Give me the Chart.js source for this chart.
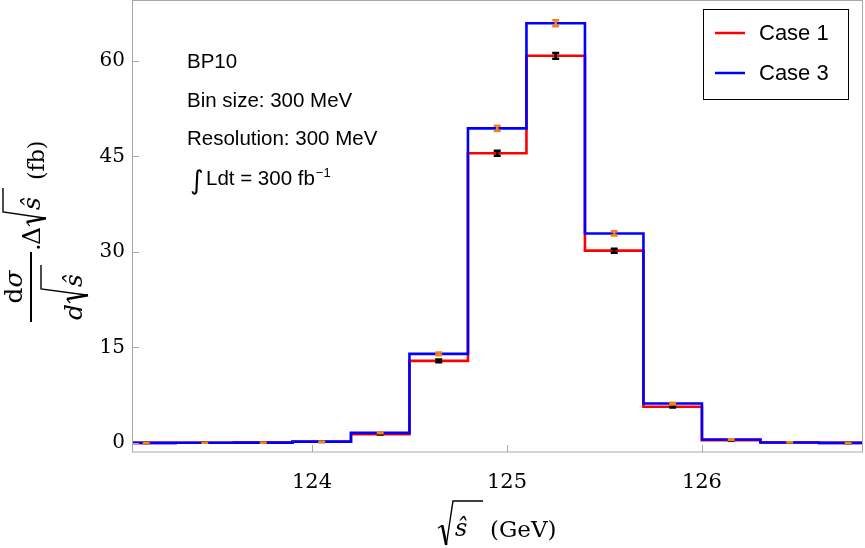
<!DOCTYPE html>
<html><head><meta charset="utf-8">
<script src="https://cdn.jsdelivr.net/npm/chart.js@4/dist/chart.umd.min.js"></script>
<style>html,body{margin:0;padding:0;background:#fff;}#wrap{width:865px;height:548px;position:relative;}</style>
</head><body><div id="wrap"><canvas id="c" width="865" height="548"></canvas></div>
<script>
// ---- data ----
const binCenters = [123.15,123.45,123.75,124.05,124.35,124.65,124.95,125.25,125.55,125.85,126.15,126.45,126.75];
const binWidth = 0.3;
const case1Values = [0.03,0.04,0.06,0.20,1.4,12.9,45.5,60.8,30.2,5.7,0.45,0.08,0.03];
const case3Values = [0.03,0.04,0.06,0.22,1.6,14.0,49.4,65.9,32.9,6.2,0.55,0.09,0.03];
const case1Errors = [0.01,0.01,0.01,0.03,0.07,0.21,0.39,0.45,0.32,0.14,0.04,0.02,0.01];
const case3Errors = [0.01,0.01,0.01,0.03,0.07,0.22,0.41,0.47,0.33,0.14,0.04,0.02,0.01];
const xTickValues = [124,125,126];
const yTickValues = [0,15,30,45,60];
const seriesLabels = ['Case 1','Case 3'];
const annotationLines = ['BP10','Bin size: 300 MeV','Resolution: 300 MeV'];
const lumiText = 'Ldt = 300 fb';
const lumiExp = '\u22121';

function stepPoints(values){
  const pts = binCenters.map((c,i)=>({x:c-binWidth/2, y:values[i]}));
  pts.push({x:binCenters[binCenters.length-1]+binWidth/2, y:values[values.length-1]});
  return pts;
}

const GRAY = '#a8a8a8';

function radical(ctx, u0, top, bottom, signW, barLen){
  const h = bottom - top;
  ctx.lineCap='butt'; ctx.lineJoin='miter';
  ctx.beginPath();
  ctx.lineWidth = 1.2;
  ctx.moveTo(u0, top + h*0.62);
  ctx.lineTo(u0 + signW*0.28, top + h*0.55);
  ctx.stroke();
  ctx.beginPath();
  ctx.lineWidth = 2.6;
  ctx.moveTo(u0 + signW*0.28, top + h*0.55);
  ctx.lineTo(u0 + signW*0.55, bottom);
  ctx.stroke();
  ctx.beginPath();
  ctx.lineWidth = 1.4;
  ctx.moveTo(u0 + signW*0.55, bottom);
  ctx.lineTo(u0 + signW, top);
  ctx.lineTo(u0 + signW + barLen, top);
  ctx.stroke();
}

const decor = {
  id:'decor',
  afterDatasetsDraw(chart){
    const {ctx, chartArea:ca, scales:{x:xs, y:ys}} = chart;
    ctx.save();
    ctx.beginPath(); ctx.rect(ca.left, ca.top, ca.right-ca.left, ca.bottom-ca.top); ctx.clip();
    const sets = [[case1Values, case1Errors, '#000000'],[case3Values, case3Errors, '#f5821f']];
    sets.forEach(([vals, errs, col])=>{
      ctx.strokeStyle = col; ctx.lineWidth = 2.5;
      binCenters.forEach((c,i)=>{
        const px = xs.getPixelForValue(c);
        const y1 = ys.getPixelForValue(vals[i]-errs[i]);
        const y2 = ys.getPixelForValue(vals[i]+errs[i]);
        ctx.beginPath();
        ctx.moveTo(px, y1); ctx.lineTo(px, y2);
        ctx.moveTo(px-3.5, y1); ctx.lineTo(px+3.5, y1);
        ctx.moveTo(px-3.5, y2); ctx.lineTo(px+3.5, y2);
        ctx.stroke();
      });
    });
    ctx.restore();
  },
  afterDraw(chart){
    const {ctx, chartArea:ca, scales:{x:xs, y:ys}} = chart;
    ctx.save();
    // frame
    ctx.strokeStyle = GRAY; ctx.lineWidth = 1;
    ctx.strokeRect(ca.left+0.5, ca.top-0.5, ca.right-ca.left-1, ca.bottom-ca.top+0.5);
    // inward ticks
    ctx.beginPath();
    xTickValues.forEach(v=>{const p=Math.round(xs.getPixelForValue(v))+0.5; ctx.moveTo(p, ca.bottom); ctx.lineTo(p, ca.bottom-7);});
    yTickValues.forEach(v=>{const p=Math.round(ys.getPixelForValue(v))+0.5; ctx.moveTo(ca.left, p); ctx.lineTo(ca.left+7, p);});
    ctx.stroke();

    // annotation text
    ctx.fillStyle = '#000';
    ctx.textAlign='left'; ctx.textBaseline='alphabetic';
    ctx.font = '20.5px "Liberation Sans"';
    const bl = [68,107,145];
    annotationLines.forEach((t,i)=>ctx.fillText(t, 187, bl[i]));
    ctx.font = 'italic 26px "DejaVu Sans"';
    ctx.fillText('\u222B', 190, 189);
    ctx.font = '20.5px "Liberation Sans"';
    ctx.fillText(lumiText, 206, 185);
    const lw = ctx.measureText(lumiText).width;
    ctx.font = '13px "Liberation Sans"';
    ctx.fillText(lumiExp, 206+lw+1, 177);

    // legend
    ctx.fillStyle='#fff'; ctx.fillRect(703,9,145,90);
    ctx.strokeStyle='#000'; ctx.lineWidth=1; ctx.strokeRect(703.5,9.5,145,90);
    const lcols = [chart.data.datasets[0].borderColor, chart.data.datasets[1].borderColor];
    const ly = [33,73];
    seriesLabels.forEach((t,i)=>{
      ctx.strokeStyle = lcols[i]; ctx.lineWidth=2.5;
      ctx.beginPath(); ctx.moveTo(715, ly[i]); ctx.lineTo(745, ly[i]); ctx.stroke();
      ctx.fillStyle='#000'; ctx.font='22px "Liberation Sans"';
      ctx.fillText(t, 759, ly[i]+7);
    });

    // x-axis title: sqrt(s-hat) (GeV)
    ctx.strokeStyle='#000'; ctx.fillStyle='#000';
    radical(ctx, 438, 501, 545, 15, 30);
    ctx.font = 'italic 24px "DejaVu Serif"';
    ctx.fillText('\u015D', 455, 536);
    ctx.font = '23px "DejaVu Serif"';
    ctx.fillText('(GeV)', 490, 537);

    // y-axis title (rotated)
    ctx.save();
    ctx.rotate(-Math.PI/2);
    const roman = '25px "DejaVu Serif"', ital = 'italic 25px "DejaVu Serif"';
    ctx.fillRect(-322, 30, 70, 2);
    ctx.font = roman; const wd = ctx.measureText('d').width;
    ctx.font = ital; const wsg = ctx.measureText('\u03C3').width;
    let a = -287 - (wd+wsg)/2;
    ctx.font = roman; ctx.fillText('d', a, 22);
    ctx.font = ital; ctx.fillText('\u03C3', a+wd, 22);
    a = -320;
    ctx.font = ital; ctx.fillText('d', a, 82);
    a += ctx.measureText('d').width + 1;
    radical(ctx, a, 41, 88, 14, 24);
    ctx.font = ital; ctx.fillText('\u015D', a+16, 82);
    a = -251;
    ctx.font = roman; ctx.fillText('.', a, 40);
    a += ctx.measureText('.').width - 2;
    ctx.fillText('\u0394', a, 40);
    a += ctx.measureText('\u0394').width + 1;
    radical(ctx, a, 3, 46, 14, 24);
    ctx.font = ital; ctx.fillText('\u015D', a+16, 40);
    a += 14 + 24 + 8;
    ctx.font = '22px "DejaVu Serif"';
    ctx.fillText('(fb)', a, 44);
    ctx.restore();

    ctx.restore();
  }
};

function noPad(s){ s.paddingTop=0; s.paddingBottom=0; s.paddingLeft=0; s.paddingRight=0; }

new Chart(document.getElementById('c').getContext('2d'), {
  type:'line',
  data:{datasets:[
    {label:seriesLabels[0], data:stepPoints(case1Values), borderColor:'#ff0000', borderWidth:2.6, stepped:true, pointRadius:0, fill:false, order:1, clip:{left:0,right:0,top:5,bottom:5}},
    {label:seriesLabels[1], data:stepPoints(case3Values), borderColor:'#0000ff', borderWidth:2.6, stepped:true, pointRadius:0, fill:false, order:0, clip:{left:0,right:0,top:5,bottom:5}}
  ]},
  options:{
    responsive:false, animation:false, devicePixelRatio:1,
    layout:{padding:{top:1,right:2,left:0,bottom:0}},
    plugins:{legend:{display:false}, tooltip:{enabled:false}},
    scales:{
      x:{type:'linear', min:123.077, max:126.826,
        afterBuildTicks:s=>{s.ticks = xTickValues.map(v=>({value:v}));},
        afterFit:s=>{s.height=96; noPad(s);},
        grid:{display:false, drawTicks:false}, border:{display:false},
        ticks:{font:{family:'DejaVu Serif', size:21}, color:'#000', padding:18, maxRotation:0, autoSkip:false, callback:v=>String(v)}},
      y:{type:'linear', min:-1.41, max:69.4,
        afterBuildTicks:s=>{s.ticks = yTickValues.map(v=>({value:v}));},
        afterFit:s=>{s.width=132; noPad(s);},
        grid:{display:false, drawTicks:false}, border:{display:false},
        ticks:{font:{family:'DejaVu Serif', size:20}, color:'#000', padding:7, autoSkip:false, callback:v=>String(v)}}
    }
  },
  plugins:[decor]
});
</script></body></html>
